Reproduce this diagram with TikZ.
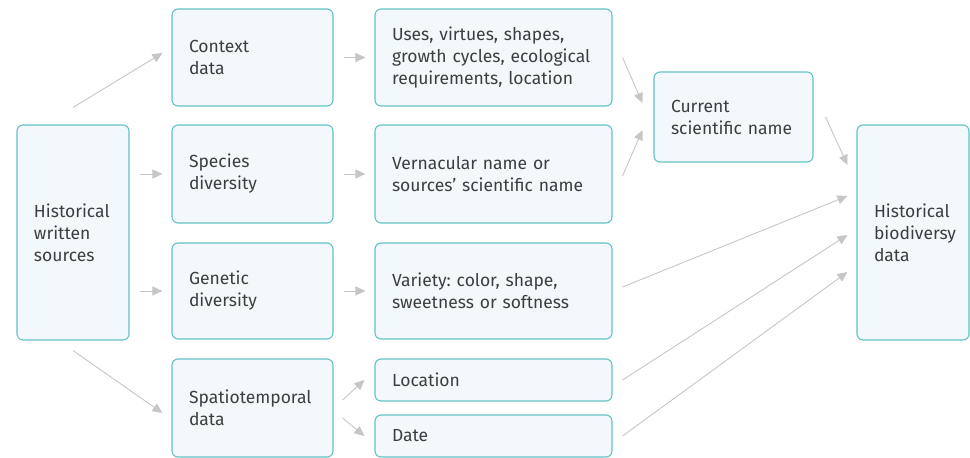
\documentclass[tikz,border=0pt]{standalone}
\usepackage{fontspec}
\setmainfont{Fira Sans}
\usetikzlibrary{arrows.meta}

\definecolor{boxline}{RGB}{98,194,199}
\definecolor{boxfill}{RGB}{242,248,251}
\definecolor{arrowgray}{RGB}{198,198,198}
\definecolor{textgray}{RGB}{62,62,62}

\hyphenpenalty=10000
\frenchspacing

\begin{document}
\begin{tikzpicture}[
    x=1pt, y=-1pt,
    box/.style={draw=boxline, line width=1.1pt, rounded corners=6pt, fill=boxfill,
        inner xsep=17pt, inner ysep=0pt, align=left, text=textgray,
        font=\fontsize{17.5}{22}\selectfont},
    flow/.style={draw=arrowgray, line width=0.9pt, -{Triangle[length=10pt,width=9pt]}},
    gap/.style={shorten <=10pt, shorten >=9pt}
]

% ============================================================
% FRAME (970 x 458, y runs downwards)
% ============================================================
\useasboundingbox (0,0) rectangle (970,458);

% ============================================================
% Column 1: source
% ============================================================
\node[box, text width=78pt, minimum height=215pt] (hist) at (73,232.5)
    {Historical\\written\\sources};

% ============================================================
% Column 2: kinds of data
% ============================================================
\node[box, text width=127pt, minimum height=97pt] (ctx) at (252.5,57.5)
    {Context\\data};
\node[box, text width=127pt, minimum height=98pt] (spec) at (252.5,174)
    {Species\\diversity};
\node[box, text width=127pt, minimum height=96pt] (gen) at (252.5,291)
    {Genetic\\diversity};
\node[box, text width=127pt, minimum height=98pt] (spat) at (252.5,408)
    {Spatiotemporal\\data};

% ============================================================
% Column 3: what the sources give
% ============================================================
\node[box, text width=203pt, minimum height=97pt] (uses) at (493.5,57.5)
    {Uses, virtues, shapes,\\growth cycles, ecological\\requirements, location};
\node[box, text width=203pt, minimum height=98pt] (vern) at (493.5,174)
    {Vernacular name or\\sources' scientific name};
\node[box, text width=203pt, minimum height=96pt] (var) at (493.5,291)
    {Variety: color, shape,\\sweetness or softness};
\node[box, text width=203pt, minimum height=42pt] (loc) at (493.5,380)
    {Location};
\node[box, text width=203pt, minimum height=42pt] (date) at (493.5,436)
    {Date};

% ============================================================
% Column 4 and 5: names and result
% ============================================================
\node[box, text width=125pt, minimum height=90pt] (cur) at (733.5,117)
    {Current\\scientific name};
\node[box, text width=78pt, minimum height=215pt] (bio) at (913,232.5)
    {Historical\\biodiversy\\data};

% ============================================================
% ARROWS
% ============================================================

% source -> kinds of data
\draw[flow] ([yshift=17pt]hist.north) -- ([xshift=-9pt,yshift=4.5pt]ctx.west);
\draw[flow, gap] (hist.east |- spec.west) -- (spec.west);
\draw[flow, gap] (hist.east |- gen.west) -- (gen.west);
\draw[flow] ([yshift=-10pt]hist.south) -- ([xshift=-9pt,yshift=-5pt]spat.west);

% kinds of data -> contents
\draw[flow, gap] (ctx.east) -- (uses.west);
\draw[flow, gap] (spec.east) -- (vern.west);
\draw[flow, gap] (gen.east) -- (var.west);
\draw[flow] ([xshift=9pt,yshift=8pt]spat.east) -- ([xshift=-10pt]loc.west);
\draw[flow] ([xshift=9pt,yshift=-10pt]spat.east) -- ([xshift=-10pt]date.west);

% contents -> current name
\draw[flow] ([xshift=10pt]uses.east) -- ([xshift=-11pt,yshift=14pt]cur.west);
\draw[flow] ([xshift=10pt,yshift=-2pt]vern.east) -- ([xshift=-11pt,yshift=-13pt]cur.west);

% everything -> result
\draw[flow] ([xshift=12pt]cur.east) -- ([xshift=-9pt,yshift=67.5pt]bio.west);
\draw[flow] ([xshift=10pt,yshift=4pt]var.east) -- ([xshift=-9pt,yshift=36.5pt]bio.west);
\draw[flow] ([xshift=10pt]loc.east) -- ([xshift=-9pt,yshift=-2.5pt]bio.west);
\draw[flow] ([xshift=10pt]date.east) -- ([xshift=-9pt,yshift=-39.5pt]bio.west);

\end{tikzpicture}
\end{document}
